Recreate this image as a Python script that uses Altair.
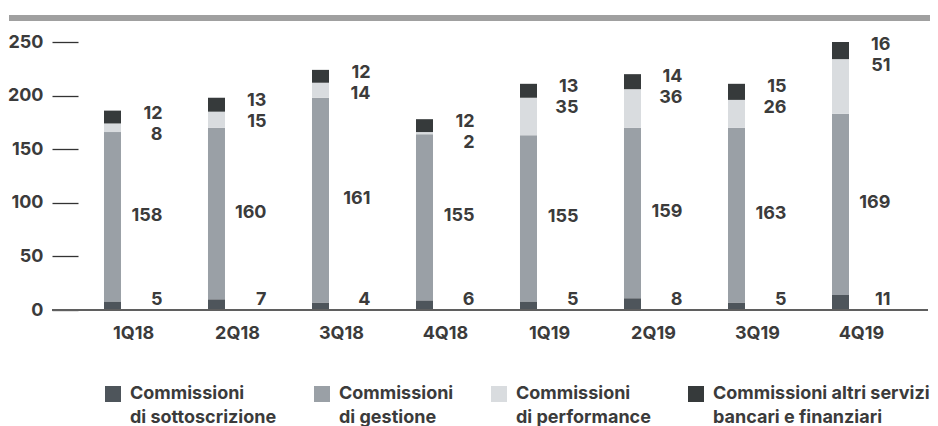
import altair as alt
import pandas as pd

# ---- data ----
quarters = ["1Q18", "2Q18", "3Q18", "4Q18", "1Q19", "2Q19", "3Q19", "4Q19"]
series_names = [
    "Commissioni|di sottoscrizione",
    "Commissioni|di gestione",
    "Commissioni|di performance",
    "Commissioni altri servizi|bancari e finanziari",
]
colors = ["#4e555b", "#9aa0a6", "#d9dcdf", "#363a3b"]

# bar segment heights as drawn
sottoscrizione = [8, 10, 7, 9, 8, 11, 7, 14]
gestione = [158, 160, 191, 155, 155, 159, 163, 169]
performance = [8, 15, 14, 2, 35, 36, 26, 51]
altri = [12, 13, 12, 12, 13, 14, 15, 16]

# printed value labels
lab_sottoscrizione = [5, 7, 4, 6, 5, 8, 5, 11]
lab_gestione = [158, 160, 161, 155, 155, 159, 163, 169]
lab_performance = [8, 15, 14, 2, 35, 36, 26, 51]
lab_altri = [12, 13, 12, 12, 13, 14, 15, 16]

y_ticks = [0, 50, 100, 150, 200, 250]

FONT = "Inter"
TXT = "#3b3b3b"

rows = []
for i, q in enumerate(quarters):
    for k, vals in enumerate([sottoscrizione, gestione, performance, altri]):
        rows.append({"quarter": q, "serie": series_names[k], "valore": vals[i], "ord": k})
bars_df = pd.DataFrame(rows)

lab_df = pd.DataFrame({
    "quarter": quarters,
    "l_sott": lab_sottoscrizione,
    "l_gest": lab_gestione,
    "l_perf": lab_performance,
    "l_altri": lab_altri,
    "zero": [0] * len(quarters),
    "gest_mid": [s + g / 2 for s, g in zip(sottoscrizione, gestione)],
    "total": [s + g + p + a for s, g, p, a in zip(sottoscrizione, gestione, performance, altri)],
})

x_scale = alt.Scale(paddingInner=0, paddingOuter=0.2115, align=0.193)
x_axis = alt.Axis(domain=False, ticks=False, tickSize=0, labelPadding=14, labelOffset=21,
                  labelAngle=0, title=None)
x_enc = alt.X("quarter:N", sort=quarters, scale=x_scale, axis=x_axis)

y_scale = alt.Scale(domain=[0, 250], nice=False, zero=True)
y_axis = alt.Axis(values=y_ticks, offset=-26, tickSize=26, tickColor="#333333", tickWidth=1.3,
                  domain=False, grid=False, labelPadding=9, title=None)

bars = alt.Chart(bars_df).mark_bar(size=17).encode(
    x=x_enc,
    y=alt.Y("valore:Q", stack="zero", scale=y_scale, axis=y_axis),
    color=alt.Color(
        "serie:N",
        sort=series_names,
        scale=alt.Scale(domain=series_names, range=colors),
        legend=alt.Legend(
            title=None, orient="none", legendX=52, legendY=343, direction="horizontal",
            columns=4, gridAlign="each", columnPadding=36,
            symbolType="square", symbolSize=256, symbolStrokeWidth=0, symbolOpacity=1,
            labelExpr="split(datum.label, '|')", labelFont=FONT, labelFontSize=18,
            labelFontWeight="bold", labelColor=TXT, labelOffset=8, labelLimit=400,
            labelBaseline="middle", padding=0,
        ),
    ),
    order=alt.Order("ord:Q"),
)


def text_layer(field, yfield, baseline, dy):
    return alt.Chart(lab_df).mark_text(
        align="right", baseline=baseline, dx=50, dy=dy, font=FONT, fontSize=18,
        fontWeight="bold", color=TXT,
    ).encode(
        x=x_enc,
        y=alt.Y(f"{yfield}:Q", scale=y_scale, axis=y_axis),
        text=f"{field}:Q",
    )


t_sott = text_layer("l_sott", "zero", "alphabetic", -5)
t_gest = text_layer("l_gest", "gest_mid", "middle", -1)
t_perf = text_layer("l_perf", "total", "middle", 24)
t_altri = text_layer("l_altri", "total", "middle", 3)

top_band = alt.Chart(pd.DataFrame({"a": [0]})).mark_rect(color="#a0a0a0").encode(
    x=alt.value(-43), x2=alt.value(878), y=alt.value(-27), y2=alt.value(-21)
)

baseline = alt.Chart(pd.DataFrame({"zero": [0]})).mark_rule(color="#5f5f5f", strokeWidth=2).encode(
    y=alt.Y("zero:Q", scale=y_scale, axis=y_axis), x=alt.value(0), x2=alt.value(876)
)

chart = alt.layer(bars, t_sott, t_gest, t_perf, t_altri, top_band, baseline).properties(
    width=876,
    height=268,
    autosize=alt.AutoSizeParams(type="none"),
    padding={"left": 44, "top": 34, "right": 2, "bottom": 116},
).configure(
    style={"guide-label": {"lineHeight": 24}}
).configure_view(stroke=None).configure_axis(
    labelFont=FONT, labelFontSize=18, labelFontWeight="bold", labelColor=TXT,
)

chart.save("out.html", embed_options={"renderer": "svg", "actions": False})
